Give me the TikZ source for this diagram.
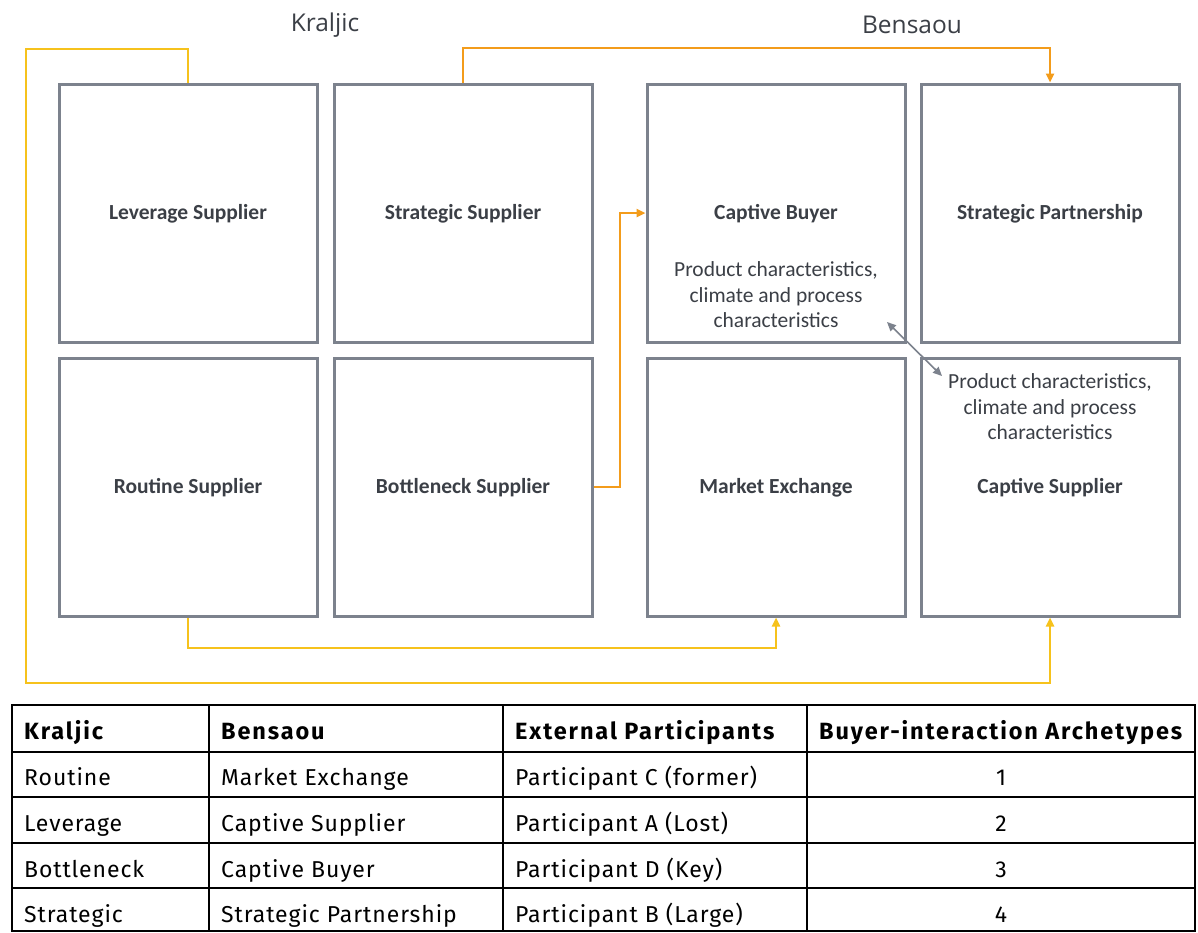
\documentclass[tikz,border=0pt]{standalone}
\usepackage{fontspec}
\setmainfont{Carlito}
\newfontfamily\headfont{Open Sans}
\newfontfamily\tabfont[LetterSpace=4]{Fira Sans}
\newfontfamily\tabheadfont[LetterSpace=8]{Fira Sans}
\usetikzlibrary{arrows.meta}
\definecolor{boxgray}{HTML}{7C828D}
\definecolor{linkyellow}{HTML}{F6C21C}
\definecolor{linkorange}{HTML}{F39C1B}
\definecolor{titlegray}{HTML}{3B3F46}
\tikzset{
  cell/.style={draw=boxgray, line width=3pt, minimum width=258pt, minimum height=258pt,
    inner sep=0pt, text height=14pt, text depth=2pt,
    font=\fontsize{21.5}{25}\selectfont\bfseries, text=titlegray},
  celltitle/.style={inner sep=0pt, text height=14pt, text depth=2pt,
    font=\fontsize{21.5}{25}\selectfont\bfseries, text=titlegray},
  note/.style={align=center, font=\fontsize{21.5}{25.5}\selectfont, text=titlegray},
  yellink/.style={draw=linkyellow, line width=2.8pt, -{Triangle[length=9pt,width=8pt]}},
  orglink/.style={draw=linkorange, line width=2.5pt, -{Triangle[length=9pt,width=8pt]}},
  graylink/.style={draw=boxgray, line width=1.6pt, {Triangle[length=9pt,width=8pt]}-{Triangle[length=9pt,width=8pt]}},
  heading/.style={font=\headfont\fontsize{24.5}{28}\selectfont, text=titlegray},
  tabtext/.style={anchor=base west, inner sep=0pt, font=\tabfont\fontsize{23}{27}\selectfont},
  tabhead/.style={anchor=base west, inner sep=0pt, font=\tabheadfont\fontsize{23.5}{27}\selectfont\bfseries},
  tabnum/.style={anchor=base, inner sep=0pt, font=\tabfont\fontsize{23}{27}\selectfont},
  rule/.style={draw=black, line width=2pt}
}
\begin{document}
\begin{tikzpicture}[x=1pt,y=-1pt]
\useasboundingbox (0,0) rectangle (1198,932);
\fill[white] (0,0) rectangle (1198,932);

% column headings
\node[heading] (hk) at (325,25) {Kraljic};
\node[heading] (hb) at (912,25) {Bensaou};

% Kraljic matrix
\node[cell] (lev) at (188,213) {Leverage Supplier};
\node[cell] (strs) at (463,213) {Strategic Supplier};
\node[cell] (rout) at (188,487) {Routine Supplier};
\node[cell] (bott) at (463,487) {Bottleneck Supplier};

% Bensaou matrix
\node[cell] (cbuy) at (776,213) {};
\node[cell] (spart) at (1050,213) {Strategic Partnership};
\node[cell] (mkt) at (776,487) {Market Exchange};
\node[cell] (csup) at (1050,487) {};

\node[celltitle] (cbuyt) at (776,213) {Captive Buyer};
\node[note] (cbuyn) at (776,295) {Product characteristics,\\climate and process\\characteristics};
\node[note] (csupn) at (1050,407) {Product characteristics,\\climate and process\\characteristics};
\node[celltitle] (csupt) at (1050,487) {Captive Supplier};

% routing points
\coordinate (ya) at (26,49);
\coordinate (yb) at (26,683);
\coordinate (oa) at (700,48);
\coordinate (ob) at (620,350);
\coordinate (yc) at (500,648);
\coordinate (ga) at (887,322);
\coordinate (gb) at (942,376);

% links between the two matrices
\draw[yellink] (lev.north) |- (ya) -- (yb) -| (csup.south);
\draw[orglink] (strs.north) |- (oa) -| (spart.north);
\draw[orglink] (bott.east) -| (ob) |- (cbuy.west);
\draw[yellink] (rout.south) |- (yc) -| (mkt.south);
\draw[graylink] (ga) -- (gb);

% mapping table
\draw[rule] (12,705) rectangle (1195,931);
\foreach \yy in {752,797,843,888} \draw[rule] (12,\yy) -- (1195,\yy);
\foreach \xx in {209,503,807} \draw[rule] (\xx,705) -- (\xx,931);

\node[tabhead] (h1) at (24,739) {Kraljic};
\node[tabhead] (h2) at (221,739) {Bensaou};
\node[tabhead] (h3) at (515,739) {External Participants};
\node[tabhead] (h4) at (819,739) {Buyer-interaction Archetypes};

\node[tabtext] (r1a) at (24,785) {Routine};
\node[tabtext] (r1b) at (221,785) {Market Exchange};
\node[tabtext] (r1c) at (515,785) {Participant C (former)};
\node[tabnum] (r1d) at (1001,785) {1};

\node[tabtext] (r2a) at (24,831) {Leverage};
\node[tabtext] (r2b) at (221,831) {Captive Supplier};
\node[tabtext] (r2c) at (515,831) {Participant A (Lost)};
\node[tabnum] (r2d) at (1001,831) {2};

\node[tabtext] (r3a) at (24,877) {Bottleneck};
\node[tabtext] (r3b) at (221,877) {Captive Buyer};
\node[tabtext] (r3c) at (515,877) {Participant D (Key)};
\node[tabnum] (r3d) at (1001,877) {3};

\node[tabtext] (r4a) at (24,922) {Strategic};
\node[tabtext] (r4b) at (221,922) {Strategic Partnership};
\node[tabtext] (r4c) at (515,922) {Participant B (Large)};
\node[tabnum] (r4d) at (1001,922) {4};
\end{tikzpicture}
\end{document}
